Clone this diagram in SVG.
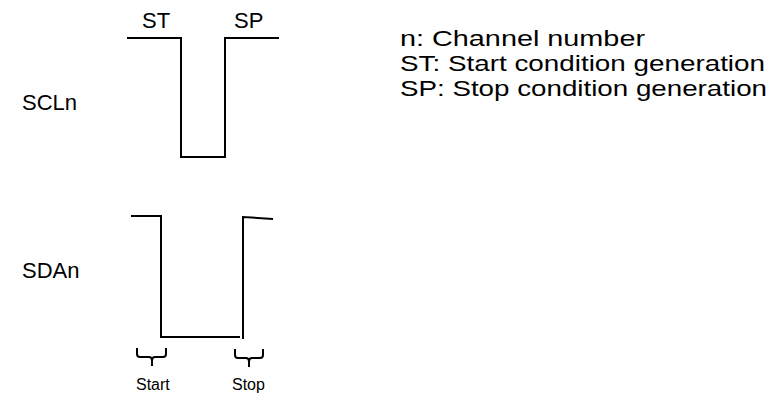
<svg xmlns="http://www.w3.org/2000/svg" width="775" height="396" viewBox="0 0 775 396">
<style>
text{font-family:"Liberation Sans",Arial,sans-serif;fill:#000}
.leg{font-size:22px}
.lbl{font-size:22px}
.sm{font-size:16px}
.wave{fill:none;stroke:#000;stroke-width:2}
.brace{fill:none;stroke:#000;stroke-width:2}
</style>
<rect width="775" height="396" fill="#fff"/>
<g id="legend">
<text class="leg" x="400" y="46" textLength="245" lengthAdjust="spacingAndGlyphs">n: Channel number</text>
<text class="leg" x="400" y="71" textLength="365" lengthAdjust="spacingAndGlyphs">ST: Start condition generation</text>
<text class="leg" x="400" y="96" textLength="367" lengthAdjust="spacingAndGlyphs">SP: Stop condition generation</text>
</g>
<g id="scl">
<text class="lbl" x="22" y="110">SCLn</text>
<text class="lbl" x="142" y="28">ST</text>
<text class="lbl" x="234" y="28">SP</text>
<path class="wave" d="M127,38 H181 V157 H225 V38 H279"/>
</g>
<g id="sda">
<text class="lbl" x="22" y="278">SDAn</text>
<path class="wave" d="M131,216 H161 V337 H240"/>
<path class="wave" d="M243,339 V217 L273,219"/>
</g>
<g id="markers">
<path class="brace" d="M137,348 V354 Q137,357 140,357 H149 Q152,357 152,361 V366 M152,361 Q152,357 155,357 H163 Q166,357 166,354 V348"/>
<path class="brace" d="M235,349 V355 Q235,358 238,358 H246 Q249,358 249,362 V367 M249,362 Q249,358 252,358 H260 Q263,358 263,355 V349"/>
<text class="sm" x="136" y="390">Start</text>
<text class="sm" x="232" y="390">Stop</text>
</g>
</svg>
